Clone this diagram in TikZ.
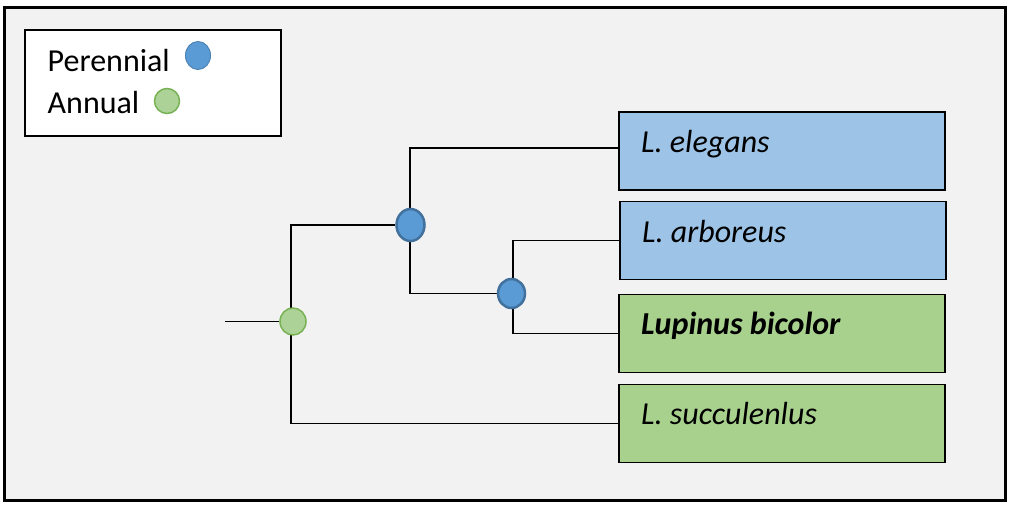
\documentclass[tikz,border=0pt]{standalone}
\usepackage{fontspec}
\setmainfont{Carlito}
\usetikzlibrary{shapes.geometric}
\definecolor{bgc}{HTML}{F2F2F2}
\definecolor{pfill}{HTML}{5B9BD5}
\definecolor{pdraw}{HTML}{41719C}
\definecolor{afill}{HTML}{ADD297}
\definecolor{adraw}{HTML}{78B255}
\definecolor{bluebox}{HTML}{9DC3E6}
\definecolor{greenbox}{HTML}{A9D18E}
\pgfdeclarelayer{bg}
\pgfdeclarelayer{lines}
\pgfsetlayers{bg,lines,main}
\tikzset{
  bigtext/.style={font=\fontsize{32}{38}\selectfont, inner sep=0pt},
  taxon/.style={draw=black, line width=1.2pt, minimum width=326pt, minimum height=78pt, inner sep=0pt},
  perdot/.style={ellipse, draw=pdraw, fill=pfill, line width=2.5pt, inner sep=0pt},
  anndot/.style={ellipse, draw=adraw, fill=afill, line width=1.5pt, inner sep=0pt},
  branch/.style={draw=black, line width=1.3pt}
}
\begin{document}
\begin{tikzpicture}[x=1pt, y=-1pt]
\useasboundingbox (0,0) rectangle (1013,507);
\begin{pgfonlayer}{bg}
\draw[line width=3pt, fill=bgc] (4.5,7) rectangle (1005.5,500);
\end{pgfonlayer}
% legend
\node[draw=black, fill=white, line width=1.2pt, minimum width=256pt, minimum height=106pt, inner sep=0pt] (legend) at (153,83) {};
\node[bigtext, anchor=base west] (pertxt) at (47.5,71) {Perennial};
\node[perdot, line width=1pt, draw=pfill!85!black, minimum width=25pt, minimum height=28pt] (perkey) at (198,55.5) {};
\node[bigtext, anchor=base west] (anntxt) at (47.5,113) {Annual};
\node[anndot, minimum width=25pt, minimum height=25pt] (annkey) at (167,101) {};
% taxa boxes
\node[taxon, fill=bluebox] (eleg) at (782,151) {};
\node[taxon, fill=bluebox] (arb) at (783,240.5) {};
\node[taxon, fill=greenbox] (bic) at (782,333.5) {};
\node[taxon, fill=greenbox] (succ) at (782,423.5) {};
\node[bigtext, anchor=base west] (elegt) at (641,152) {\itshape L. elegans};
\node[bigtext, anchor=base west] (arbt) at (642,242) {\itshape L. arboreus};
\node[bigtext, anchor=base west] (bict) at (641,334) {\bfseries\itshape Lupinus bicolor};
\node[bigtext, anchor=base west] (succt) at (641,424) {\itshape L. succulenlus};
% internal nodes
\node[anndot, minimum width=26pt, minimum height=27pt] (root) at (293,321.5) {};
\node[perdot, minimum width=28pt, minimum height=32pt] (n1) at (410.5,225) {};
\node[perdot, minimum width=27pt, minimum height=29pt] (n2) at (511.5,293.5) {};
\coordinate (stem) at (225,321.5);
\begin{pgfonlayer}{lines}
\draw[branch] (stem) -- (root);
\draw[branch] (n1) -| ([xshift=-2pt]root.center);
\draw[branch] ([xshift=-2pt]root.center) |- (succ.west);
\draw[branch] ([xshift=-0.5pt]n1.center) |- ([yshift=3pt]eleg.west);
\draw[branch] ([xshift=-0.5pt]n1.center) |- (n2);
\draw[branch] ([xshift=1.5pt]n2.center) |- (arb.west);
\draw[branch] ([xshift=1.5pt]n2.center) |- (bic.west);
\end{pgfonlayer}
\end{tikzpicture}
\end{document}
